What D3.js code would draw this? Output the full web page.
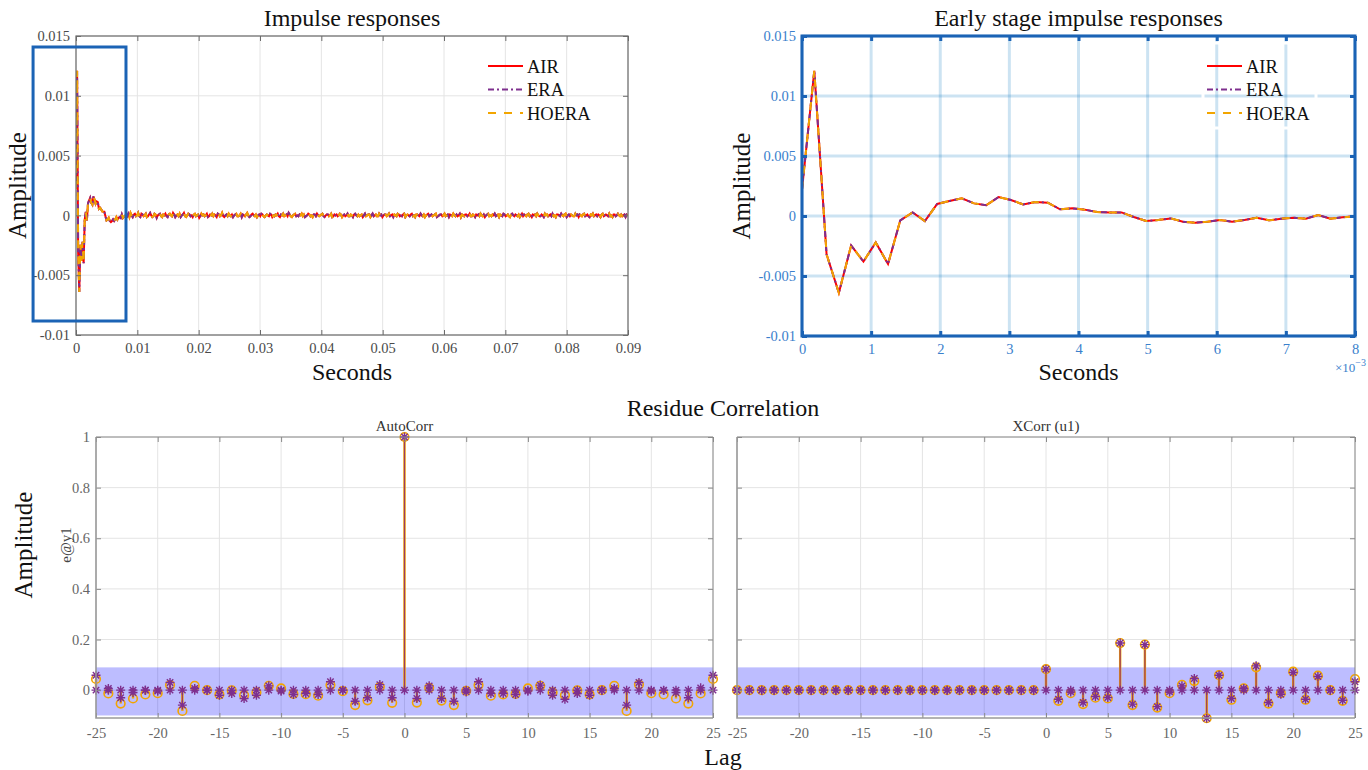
<!DOCTYPE html>
<html>
<head>
<meta charset="utf-8">
<script src="https://cdn.jsdelivr.net/npm/d3@7"></script>
<style>
  body { margin: 0; background: #fff; }
  svg, svg text { font-family: "Liberation Serif", "DejaVu Serif", serif !important; }
</style>
</head>
<body>
<svg id="fig" width="1368" height="770"></svg>
<script>
// ---- data ----
const seriesNames = ["AIR", "ERA", "HOERA"];
const sampleStep = 8e-3 / 45;   // seconds between samples

// first 8 ms, units of 1e-5
const airEarlyE5 = [220, 1210, -320, -640, -245, -380, -220, -400, -36, 30,
  -42, 100, 125, 147, 105, 90, 158, 133, 97, 117,
  111, 56, 64, 53, 33, 30, 30, -8, -42, -33,
  -20, -47, -56, -47, -33, -47, -33, -14, -36, -22,
  -14, -22, 8, -22, -11, -3];

// tail after 8 ms, units of 7e-5
const tailUnit = 7e-5;
const airTail = [
  1,-1,2,-2,3,0,-2,1,2,-1,0,3,-1,-2,2,1,-1,0,2,-2,
  -1,1,3,0,-2,-1,2,1,-3,0,1,2,-1,-2,1,0,2,-1,-2,1,
  2,0,-1,3,1,-2,0,1,-1,2,-2,0,1,3,-1,-2,0,2,1,-1,
  0,-2,1,2,-1,0,1,-3,-1,2,0,1,-1,0,2,-2,-1,1,0,2,
  -1,1,0,-2,2,1,-1,0,3,-1,-2,0,1,-1,2,0,-1,1,-2,0,
  1,2,-1,-1,0,2,-2,1,0,-1,1,3,0,-2,-1,1,2,0,-1,1,
  -2,0,1,-1,2,1,-1,-2,0,1,0,-1,2,1,-2,0,-1,1,0,2,
  -1,-2,1,0,2,-1,0,1,-1,3,1,-1,-2,0,1,2,-1,0,-1,1,
  0,2,-1,1,-2,-1,0,2,1,-1,0,-2,1,1,-1,2,0,-1,0,1,
  2,-1,-2,0,1,1,-1,0,2,-2,-1,1,0,1,-1,0,2,1,-2,0,
  1,-1,0,2,-1,-1,1,0,-2,1,2,0,-1,1,-1,0,1,-2,0,2,
  -1,0,1,1,-2,0,2,-1,0,1,-1,-1,2,0,1,-2,0,1,1,-1,
  0,2,-1,0,1,-2,1,0,-1,2,1,-1,0,-1,1,2,-2,0,1,0,
  -1,1,2,-1,0,-2,1,1,0,-1,2,0,-1,1,-2,0,1,2,-1,0,
  1,-1,0,1,2,-2,-1,0,1,1,-1,0,2,-1,0,1,-2,1,0,-1,
  2,0,-1,1,-1,0,2,-2,1,0,-1,1,1,-1,0,2,-1,-1,1,0,
  -2,1,0,1,-1,2,0,-1,1,-2,0,1,2,-1,0,-1,1,0,2,-1,
  0,1,-2,1,0,-1,2,1,-1,0,1,-1,-2,1,2,0,-1,1,0,-1,
  1,-2,0,2,-1,1,0,-1,1,2,-1,0,-2,1,0,1,-1,2,0,-1,
  -1,1,0,-2,2,0,1,-1,0,1,-1,2,-1,0,-2,1,1,0,-1,2,
  0,-1,1,2,-2,0,1,-1,1,0,-1,-1,2,0,1,-2,1,0,-1,1,
  2,-1,0,1,-1,-2,1,0,2,-1,0,1,-1,1,0,-2,1,2,-1,0,
  1,0,-1,2,-1,0,-2,1,1,-1,0,2,0,-1,1,-1,0,1,-2,1,
  0];

const impulseXTicks = [0, 0.01, 0.02, 0.03, 0.04, 0.05, 0.06, 0.07, 0.08, 0.09];
const earlyXTicks = [0, 0.001, 0.002, 0.003, 0.004, 0.005, 0.006, 0.007, 0.008];
const ampTicks = [-0.01, -0.005, 0, 0.005, 0.01, 0.015];

const lags = d3.range(-25, 26);
const lagTicks = [-25, -20, -15, -10, -5, 0, 5, 10, 15, 20, 25];
const corrTicks = [0, 0.2, 0.4, 0.6, 0.8, 1];
const confBand = [-0.1, 0.09];

const autoEra = [0.059,0.007,-0.030,-0.009,0,-0.004,0.030,-0.059,0.007,0,
  -0.020,-0.013,-0.033,-0.020,0.017,-0.004,-0.017,-0.013,-0.017,0.033,
  0,-0.044,-0.030,0.022,-0.030,1,-0.033,0.017,-0.033,-0.044,
  -0.007,0.033,-0.013,-0.013,-0.017,-0.004,0.020,-0.020,-0.036,-0.013,
  -0.020,0,0.007,-0.059,0.030,-0.004,-0.001,-0.009,-0.030,0.009,0.059];
const autoHoera = [0.044,-0.013,-0.053,-0.033,-0.017,-0.012,0.020,-0.082,0.017,0,
  -0.017,-0.001,-0.020,-0.009,0.017,0.007,-0.015,-0.016,-0.022,0.020,
  -0.004,-0.059,-0.040,0.013,-0.050,1,-0.049,0.009,-0.041,-0.059,
  -0.003,0.020,-0.022,-0.017,-0.015,0.007,0.017,-0.009,-0.020,-0.001,
  -0.017,0,0.017,-0.082,0.022,-0.012,-0.017,-0.033,-0.053,-0.013,0.044];
const xcorrEra = [0,0,0,0,0,0,0,0,0,0,0,0,0,0,0,0,0,0,0,0,0,0,0,0,0,
  0.083,-0.036,-0.007,-0.049,-0.025,-0.029,0.186,-0.055,0.180,-0.065,
  -0.007,0.017,0.046,-0.111,0.059,-0.033,0.007,0.096,-0.049,-0.016,
  0.070,-0.036,0.054,0,-0.040,0.033];
const xcorrHoera = [0,0,0,0,0,0,0,0,0,0,0,0,0,0,0,0,0,0,0,0,0,0,0,0,0,
  0.083,-0.042,-0.012,-0.055,-0.030,-0.033,0.186,-0.059,0.180,-0.069,
  -0.012,0.021,0.036,-0.111,0.059,-0.038,0.007,0.090,-0.053,-0.012,
  0.073,-0.038,0.057,0,-0.042,0.044];

// ---- build series ----
const impulse = airEarlyE5.map(v => v * 1e-5).concat(airTail.map(v => v * tailUnit))
  .map((v, i) => ({t: i * sampleStep, v: v}));

const lineStyles = {
  AIR:   {color: "#ff0000", dash: null},
  ERA:   {color: "#7e2f8e", dash: "6,3,2,3"},
  HOERA: {color: "#f2a500", dash: "8,8"}
};

const svg = d3.select("#fig");
const fmt = d => d === 0 ? "0" : String(+d.toFixed(4));

const gray = {axis: "#6b6b6b", label: "#4a4a4a", grid: "#e4e4e4", gridW: 1, boxW: 1.2, tickW: 1};
const blue = {axis: "#1b63b5", label: "#3a80cc", grid: "rgba(0,114,189,0.2)", gridW: 3, boxW: 3, tickW: 3};

function drawGrid(g, x, y, w, h, xTicks, yTicks, th) {
  g.append("g").selectAll("line").data(xTicks).join("line")
    .attr("x1", d => x(d)).attr("x2", d => x(d)).attr("y1", 0).attr("y2", h)
    .attr("stroke", th.grid).attr("stroke-width", th.gridW);
  g.append("g").selectAll("line").data(yTicks).join("line")
    .attr("x1", 0).attr("x2", w).attr("y1", d => y(d)).attr("y2", d => y(d))
    .attr("stroke", th.grid).attr("stroke-width", th.gridW);
}

function styleAxis(sel, th, size) {
  sel.attr("font-family", null);
  sel.select(".domain").remove();
  sel.selectAll(".tick line").attr("stroke", th.axis).attr("stroke-width", th.tickW);
  sel.selectAll(".tick text").attr("fill", th.label).style("font-size", (size || 14.5) + "px");
}

function drawAxes(g, x, y, w, h, xTicks, yTicks, xFmt, yFmt, th, showY, xPad) {
  g.append("g").attr("transform", `translate(0,${h})`)
    .call(d3.axisBottom(x).tickValues(xTicks).tickSize(-5).tickPadding(xPad || 8).tickFormat(xFmt))
    .call(s => styleAxis(s, th));
  g.append("g")
    .call(d3.axisTop(x).tickValues(xTicks).tickSize(-5).tickFormat(""))
    .call(s => styleAxis(s, th));
  g.append("g")
    .call(d3.axisLeft(y).tickValues(yTicks).tickSize(-5).tickPadding(6).tickFormat(showY ? yFmt : ""))
    .call(s => styleAxis(s, th));
  g.append("g").attr("transform", `translate(${w},0)`)
    .call(d3.axisRight(y).tickValues(yTicks).tickSize(-5).tickFormat(""))
    .call(s => styleAxis(s, th));
}

function impulsePanel(cfg) {
  const w = cfg.right - cfg.left, h = cfg.bottom - cfg.top;
  const g = svg.append("g").attr("transform", `translate(${cfg.left},${cfg.top})`);
  const x = d3.scaleLinear().domain(cfg.xDomain).range([0, w]);
  const y = d3.scaleLinear().domain([-0.01, 0.015]).range([h, 0]);
  drawGrid(g, x, y, w, h, cfg.xTicks, ampTicks, cfg.th);

  const clipId = "clip" + cfg.left;
  g.append("clipPath").attr("id", clipId).append("rect").attr("width", w).attr("height", h);
  const pts = impulse.filter(p => p.t <= cfg.xDomain[1] + 1e-9);
  const line = d3.line().x(d => x(d.t)).y(d => y(d.v));
  const lg = g.append("g").attr("clip-path", `url(#${clipId})`);
  seriesNames.forEach(name => {
    const st = lineStyles[name];
    lg.append("path").datum(pts).attr("d", line).attr("fill", "none")
      .attr("stroke", st.color).attr("stroke-width", 2)
      .attr("stroke-dasharray", st.dash);
  });

  drawAxes(g, x, y, w, h, cfg.xTicks, ampTicks, cfg.xFmt, fmt, cfg.th, true, 8);
  g.append("rect").attr("width", w).attr("height", h).attr("fill", "none")
    .attr("stroke", cfg.th.axis).attr("stroke-width", cfg.th.boxW);

  // legend
  const leg = g.append("g").attr("transform", `translate(${cfg.legX - cfg.left},${cfg.legY - cfg.top})`);
  if (cfg.legBox) {
    leg.append("rect").attr("x", -4).attr("y", -23).attr("width", 113).attr("height", 85)
      .attr("fill", "none").attr("stroke", "#fff").attr("stroke-width", 3);
  }
  seriesNames.forEach((name, i) => {
    const st = lineStyles[name];
    leg.append("line").attr("x1", 0).attr("x2", 35).attr("y1", i * 23.5).attr("y2", i * 23.5)
      .attr("stroke", st.color).attr("stroke-width", 2).attr("stroke-dasharray", st.dash);
    leg.append("text").attr("x", 39).attr("y", i * 23.5 + 6.5).text(name)
      .style("font-size", "18.5px").attr("fill", "#111");
  });

  // titles
  svg.append("text").attr("x", (cfg.left + cfg.right) / 2).attr("y", 26).attr("text-anchor", "middle")
    .style("font-size", "24px").attr("fill", "#111").text(cfg.title);
  svg.append("text").attr("x", (cfg.left + cfg.right) / 2).attr("y", 380).attr("text-anchor", "middle")
    .style("font-size", "24px").attr("fill", "#111").text("Seconds");
  svg.append("text").attr("transform", `translate(${cfg.ylabX},${(cfg.top + cfg.bottom) / 2}) rotate(-90)`)
    .attr("text-anchor", "middle").style("font-size", "25px").attr("fill", "#111").text("Amplitude");
  return {g, x, y};
}

// top left
const p1 = impulsePanel({
  left: 76, right: 628, top: 36, bottom: 335, xDomain: [0, 0.09], xTicks: impulseXTicks,
  xFmt: fmt, th: gray, title: "Impulse responses", legX: 488, legY: 66, ylabX: 26, legBox: false
});
// zoom rectangle around the early part
p1.g.append("rect")
  .attr("x", p1.x(-0.007)).attr("y", p1.y(0.01408))
  .attr("width", p1.x(0.00815) - p1.x(-0.007))
  .attr("height", p1.y(-0.00883) - p1.y(0.01408))
  .attr("fill", "none").attr("stroke", "#1b63b5").attr("stroke-width", 3);

// top right
impulsePanel({
  left: 802, right: 1355, top: 36, bottom: 336, xDomain: [0, 0.008], xTicks: earlyXTicks,
  xFmt: d => String(Math.round(d * 1000)), th: blue, title: "Early stage impulse responses",
  legX: 1207, legY: 66, ylabX: 750, legBox: true
});
svg.append("text").attr("x", 1366).attr("y", 372).attr("text-anchor", "end")
  .style("font-size", "13px").attr("fill", "#3a80cc")
  .html('×10<tspan dy="-6" font-size="10">−3</tspan>');

// ---- residue correlation ----
function stemPanel(cfg) {
  const w = cfg.right - cfg.left, h = cfg.bottom - cfg.top;
  const g = svg.append("g").attr("transform", `translate(${cfg.left},${cfg.top})`);
  const x = d3.scaleLinear().domain([-25, 25]).range([0, w]);
  const y = d3.scaleLinear().domain([-0.11, 1]).range([h, 0]);
  drawGrid(g, x, y, w, h, lagTicks, corrTicks, gray);

  g.append("rect").attr("x", 0).attr("width", w)
    .attr("y", y(confBand[1])).attr("height", y(confBand[0]) - y(confBand[1]))
    .attr("fill", "#0000ff").attr("fill-opacity", 0.26);

  const pts = lags.map((l, i) => ({lag: l, era: cfg.era[i], hoera: cfg.hoera[i]}));
  g.append("g").selectAll("line").data(pts).join("line")
    .attr("x1", d => x(d.lag)).attr("x2", d => x(d.lag))
    .attr("y1", y(0)).attr("y2", d => y(d.hoera))
    .attr("stroke", "#f2a500").attr("stroke-width", 2.4);
  g.append("g").selectAll("line").data(pts).join("line")
    .attr("x1", d => x(d.lag)).attr("x2", d => x(d.lag))
    .attr("y1", y(0)).attr("y2", d => y(d.era))
    .attr("stroke", "#9a3b62").attr("stroke-width", 1.2);
  g.append("g").selectAll("circle").data(pts).join("circle")
    .attr("cx", d => x(d.lag)).attr("cy", d => y(d.hoera)).attr("r", 4.3)
    .attr("fill", "none").attr("stroke", "#f2a500").attr("stroke-width", 1.6);
  const star = "M-4.5,0H4.5M0,-4.5V4.5M-3.2,-3.2L3.2,3.2M-3.2,3.2L3.2,-3.2";
  const stars = pts.flatMap(d => [{lag: d.lag, v: 0}, {lag: d.lag, v: d.era}]);
  g.append("g").selectAll("path").data(stars).join("path")
    .attr("transform", d => `translate(${x(d.lag)},${y(d.v)})`).attr("d", star)
    .attr("fill", "none").attr("stroke", "#7e2f8e").attr("stroke-width", 1.4);

  const th = {axis: "#8a8a8a", label: "#666", tickW: 1};
  drawAxes(g, x, y, w, h, lagTicks, corrTicks, fmt, fmt, th, cfg.showY, 10);
  g.append("path").attr("d", `M0,0V${h}H${w}`).attr("fill", "none")
    .attr("stroke", "#9a9a9a").attr("stroke-width", 1.6);
  g.append("path").attr("d", `M0,0H${w}V${h}`).attr("fill", "none")
    .attr("stroke", "#8a8a8a").attr("stroke-width", 1);

  svg.append("text").attr("x", (cfg.left + cfg.right) / 2).attr("y", 431).attr("text-anchor", "middle")
    .style("font-size", "15px").attr("fill", "#333").text(cfg.title);
}

stemPanel({left: 96, right: 713, top: 437, bottom: 718, era: autoEra, hoera: autoHoera,
  title: "AutoCorr", showY: true});
stemPanel({left: 737, right: 1355, top: 437, bottom: 718, era: xcorrEra, hoera: xcorrHoera,
  title: "XCorr (u1)", showY: false});

svg.append("text").attr("x", 723).attr("y", 416).attr("text-anchor", "middle")
  .style("font-size", "24px").attr("fill", "#111").text("Residue Correlation");
svg.append("text").attr("x", 723).attr("y", 765).attr("text-anchor", "middle")
  .style("font-size", "24px").attr("fill", "#111").text("Lag");
svg.append("text").attr("transform", "translate(32,545) rotate(-90)").attr("text-anchor", "middle")
  .style("font-size", "25px").attr("fill", "#111").text("Amplitude");
svg.append("text").attr("transform", "translate(71,545) rotate(-90)").attr("text-anchor", "middle")
  .style("font-size", "15px").attr("fill", "#444").text("e@y1");
</script>
</body>
</html>
